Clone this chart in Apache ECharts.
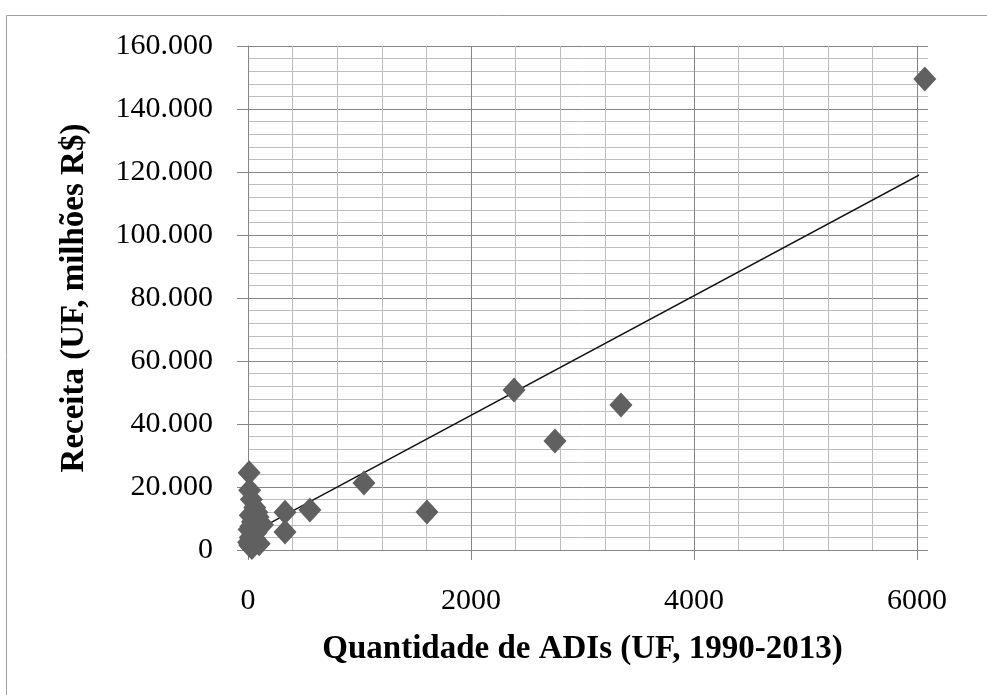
<!DOCTYPE html>
<html>
<head>
<meta charset="utf-8">
<script src="https://cdn.jsdelivr.net/npm/echarts@6/dist/echarts.min.js"></script>
<style>
  html, body { margin: 0; padding: 0; background: #fff; }
  #chart { width: 987px; height: 695px; }
</style>
</head>
<body>
<div id="chart"></div>
<script>
// Quantidade de ADIs por UF (x) e receita em milhoes R$ (y)
const adis = [6070, 3345, 2753, 2386, 1605, 1040, 555, 332, 332,
  10, 15, 30, 60, 20, 90, 40, 130, 10, 70, 20, 50, 5, 100, 15, 35, 60, 25, 80];
const receita = [149500, 46000, 34600, 50800, 12100, 21300, 12700, 12000, 5700,
  24500, 19000, 16000, 13500, 11000, 10500, 9000, 8000, 6500, 5500, 4000, 3000, 2500, 2000, 1500, 800, 3500, 7500, 12000];
// linha de tendencia (extremos)
const trendX = [0, 6070];
const trendY = [4800, 120000];
const xTicks = [0, 2000, 4000, 6000];

const chart = echarts.init(document.getElementById('chart'));

const serif = 'Liberation Serif';
const minorColor = '#bdbdbd';
const majorColor = '#858585';

function ptBR(v) {
  return String(v).replace(/\B(?=(\d{3})+(?!\d))/g, '.');
}

const points = adis.map((x, i) => [x, receita[i]]);
const trend = trendX.map((x, i) => [x, trendY[i]]);

chart.setOption({
  animation: false,
  graphic: [{
    type: 'rect',
    left: 4,
    top: 13,
    shape: { width: 1000, height: 700 },
    style: { fill: 'none', stroke: '#a0a0a0', lineWidth: 1 }
  }],
  grid: [
    { left: 248, right: 70, top: 46, bottom: 145 },
    { left: 917, right: 59, top: 46, bottom: 145 }
  ],
  xAxis: [{
    type: 'value',
    gridIndex: 0,
    min: xTicks[0],
    max: xTicks[xTicks.length - 1],
    interval: 2000,
    minorTick: { show: false, splitNumber: 5 },
    name: 'Quantidade de ADIs (UF, 1990-2013)',
    nameLocation: 'middle',
    nameGap: 83,
    nameTextStyle: { fontFamily: serif, fontWeight: 'bold', fontSize: 33, color: '#000' },
    axisLine: { show: true, lineStyle: { color: majorColor, width: 1 } },
    axisTick: { show: true, length: 10, lineStyle: { color: majorColor } },
    axisLabel: { fontFamily: serif, fontSize: 30, color: '#000', margin: 36, formatter: v => String(v) },
    splitLine: { show: true, lineStyle: { color: majorColor, width: 1 } },
    minorSplitLine: { show: true, lineStyle: { color: minorColor, width: 1 } }
  }, {
    type: 'value',
    gridIndex: 1,
    min: 0,
    max: 1,
    show: false
  }],
  yAxis: [{
    type: 'value',
    gridIndex: 0,
    min: 0,
    max: 160000,
    interval: 20000,
    minorTick: { show: false, splitNumber: 5 },
    name: 'Receita (UF, milhões R$)',
    nameLocation: 'middle',
    nameGap: 157,
    nameTextStyle: { fontFamily: serif, fontWeight: 'bold', fontSize: 33, color: '#000' },
    axisLine: { show: true, lineStyle: { color: majorColor, width: 1 } },
    axisTick: { show: true, length: 11, lineStyle: { color: majorColor } },
    axisLabel: { fontFamily: serif, fontSize: 30, color: '#000', margin: 35, formatter: ptBR },
    splitLine: { show: true, lineStyle: { color: majorColor, width: 1 } },
    minorSplitLine: { show: true, lineStyle: { color: minorColor, width: 1 } }
  }, {
    type: 'value',
    gridIndex: 1,
    min: 0,
    max: 160000,
    interval: 20000,
    minorTick: { show: false, splitNumber: 5 },
    axisLine: { show: false },
    axisTick: { show: false },
    axisLabel: { show: false },
    splitLine: { show: true, lineStyle: { color: majorColor, width: 1 } },
    minorSplitLine: { show: true, lineStyle: { color: minorColor, width: 1 } }
  }],
  series: [{
    type: 'line',
    xAxisIndex: 0,
    yAxisIndex: 0,
    data: trend,
    symbol: 'none',
    clip: false,
    z: 3,
    lineStyle: { color: '#111', width: 1.5 }
  }, {
    type: 'scatter',
    xAxisIndex: 0,
    yAxisIndex: 0,
    data: points,
    symbol: 'diamond',
    symbolSize: [23, 25],
    clip: false,
    z: 4,
    itemStyle: { color: '#606060', opacity: 1 }
  }]
});
</script>
</body>
</html>
